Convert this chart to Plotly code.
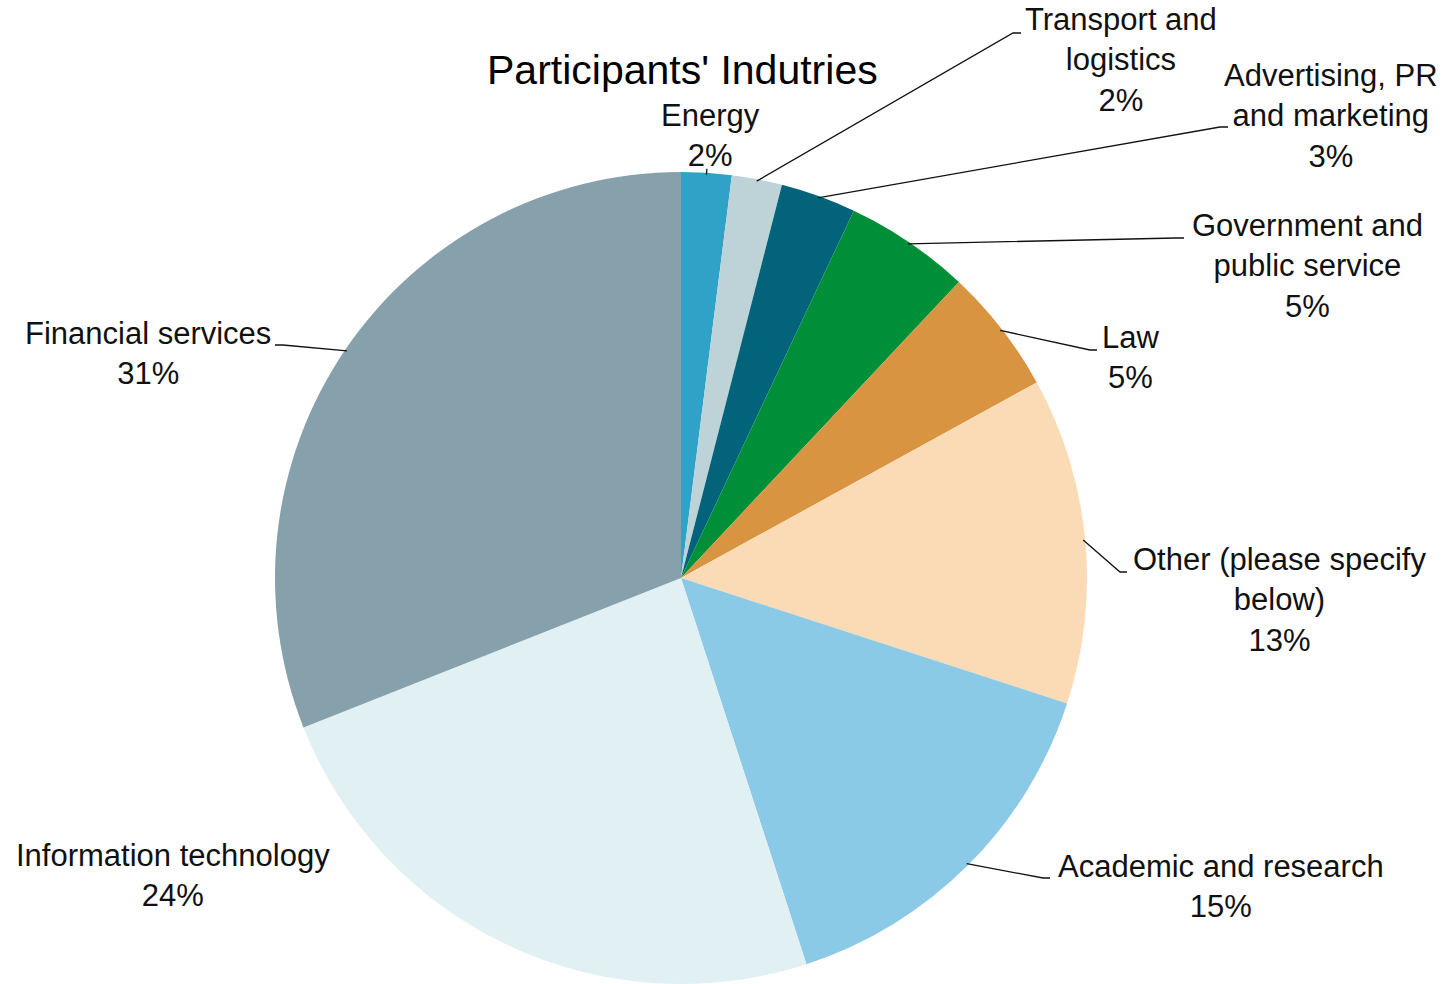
import math
import plotly.graph_objects as go

# Survey data: share of participants per industry (clockwise from 12 o'clock)
industries = [
    "Energy",
    "Transport and logistics",
    "Advertising, PR and marketing",
    "Government and public service",
    "Law",
    "Other (please specify below)",
    "Academic and research",
    "Information technology",
    "Financial services",
]
shares = [2, 2, 3, 5, 5, 13, 15, 24, 31]
label_lines = [
    ["Energy"],
    ["Transport and", "logistics"],
    ["Advertising, PR", "and marketing"],
    ["Government and", "public service"],
    ["Law"],
    ["Other (please specify", "below)"],
    ["Academic and research"],
    ["Information technology"],
    ["Financial services"],
]
colors = [
    "#31A2C7", "#BDD3D8", "#02637B", "#008F39", "#D99441",
    "#FBDBB5", "#8BCAE6", "#E0F0F3", "#86A1AC",
]

W, H = 1448, 984
CX, CY, R = 681, 578, 406  # pie centre and radius in pixels

# label block centre (px) and leader elbow / end (px) for each slice
label_pos = [(710, 136), (1121, 60), (1331, 116), (1307, 266), (1130, 358),
             (1279, 600), (1221, 886), (173, 875), (148, 353)]
elbows = [None, ((1013, 33), (1021, 33)), ((1220, 127), (1228, 127)),
          ((1176, 238), (1184, 238)), ((1090, 350), (1097, 350)),
          ((1120, 572), (1127, 572)), ((1043, 878), (1050, 878)),
          None, ((283, 345), (275, 345))]


def px(x):
    return x / W


def py(y):
    return 1 - y / H


fig = go.Figure(go.Pie(
    labels=industries,
    values=shares,
    sort=False,
    direction="clockwise",
    rotation=0,
    marker=dict(colors=colors, line=dict(width=0)),
    textinfo="none",
    hoverinfo="label+percent",
    showlegend=False,
    domain=dict(x=[px(CX - R), px(CX + R)], y=[py(CY + R), py(CY - R)]),
))

font = dict(family="Liberation Sans, Helvetica, Arial, sans-serif", size=31, color="#111111")
total = sum(shares)
cum = 0
shapes = []
annotations = []
for i, v in enumerate(shares):
    mid = (cum + v / 2) / total * 2 * math.pi
    cum += v
    sx = CX + (R - 2) * math.sin(mid)
    sy = CY - (R - 2) * math.cos(mid)
    lx, ly = label_pos[i]
    pct = f"{v}%"
    annotations.append(dict(
        x=px(lx), y=py(ly), xref="paper", yref="paper",
        text="<br>".join(label_lines[i] + [pct]),
        showarrow=False, align="center", xanchor="center", yanchor="middle",
        font=font,
    ))
    if elbows[i] is not None:
        (ex, ey), (tx, ty) = elbows[i]
        path = f"M {px(sx)},{py(sy)} L {px(ex)},{py(ey)} L {px(tx)},{py(ty)}"
    elif i == 0:
        path = f"M {px(sx)},{py(sy)} L {px(sx + 0.5)},{py(sy - 6)}"
    else:
        continue
    shapes.append(dict(type="path", path=path, xref="paper", yref="paper",
                       line=dict(color="#111111", width=1.3)))

annotations.append(dict(
    x=px(682), y=py(70), xref="paper", yref="paper",
    text="Participants' Indutries", showarrow=False,
    xanchor="center", yanchor="middle",
    font=dict(family="Liberation Sans, Helvetica, Arial, sans-serif", size=41, color="#000000"),
))

fig.update_layout(
    width=W, height=H,
    margin=dict(l=0, r=0, t=0, b=0),
    paper_bgcolor="white",
    plot_bgcolor="white",
    shapes=shapes,
    annotations=annotations,
)

fig.write_html("out.html")
